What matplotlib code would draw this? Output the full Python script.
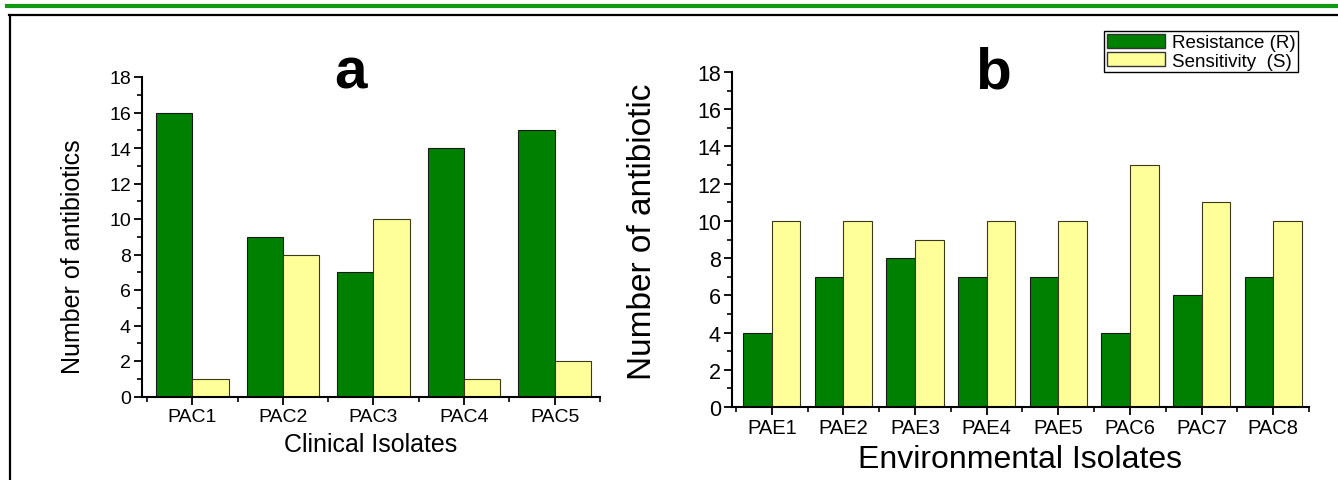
import numpy as np
import matplotlib
matplotlib.use('Agg')
from matplotlib import pyplot as plt
from matplotlib.lines import Line2D
from matplotlib.ticker import MultipleLocator, FixedLocator

plt.rcParams['font.family'] = ['Liberation Sans', 'DejaVu Sans']

# 数据
clinical = ['PAC1', 'PAC2', 'PAC3', 'PAC4', 'PAC5']
clinical_r = [16, 9, 7, 14, 15]
clinical_s = [1, 8, 10, 1, 2]

environ = ['PAE1', 'PAE2', 'PAE3', 'PAE4', 'PAE5', 'PAC6', 'PAC7', 'PAC8']
environ_r = [4, 7, 8, 7, 7, 4, 6, 7]
environ_s = [10, 10, 9, 10, 10, 13, 11, 10]

green = '#008000'
yellow = '#FFFF99'
W, H = 1338, 481

fig = plt.figure(figsize=(W / 100, H / 100), dpi=100)


def px_axes(l, r, t, b):
    return fig.add_axes([l / W, 1 - b / H, (r - l) / W, (b - t) / H])


def draw_panel(ax, names, r_vals, s_vals, ylabel, xlabel, ytick_fs, xtick_fs,
               ylab_fs, xlab_fs, ylab_pos):
    x = np.arange(len(names))
    ax.bar(x - 0.2, r_vals, width=0.4, color=green, edgecolor='#1a1a1a', linewidth=0.8)
    ax.bar(x + 0.2, s_vals, width=0.4, color=yellow, edgecolor='#3a3a1a', linewidth=0.8)
    ax.set_xlim(-0.555, len(names) - 0.5)
    ax.set_ylim(0, 18)
    for s in ['top', 'right']:
        ax.spines[s].set_visible(False)
    for s in ['left', 'bottom']:
        ax.spines[s].set_linewidth(1.5)
    ax.yaxis.set_major_locator(MultipleLocator(2))
    ax.yaxis.set_minor_locator(MultipleLocator(1))
    ax.xaxis.set_major_locator(FixedLocator(x))
    ax.xaxis.set_minor_locator(FixedLocator(np.arange(len(names) + 1) - 0.5))
    ax.set_xticklabels(names)
    ax.tick_params(which='major', length=6, width=1.3, pad=2)
    ax.tick_params(axis='y', labelsize=ytick_fs)
    ax.tick_params(axis='x', labelsize=xtick_fs)
    ax.tick_params(which='minor', length=3.5, width=1.2)
    ax.set_ylabel(ylabel, fontsize=ylab_fs)
    ax.yaxis.set_label_coords(*ylab_pos)
    ax.set_xlabel(xlabel, fontsize=xlab_fs, labelpad=5)


ax_a = px_axes(142, 600, 78, 397.5)
draw_panel(ax_a, clinical, clinical_r, clinical_s,
           'Number of antibiotics', 'Clinical Isolates', 14, 14, 18, 18, (-0.124, 0.44))

ax_b = px_axes(732, 1309, 73, 408)
draw_panel(ax_b, environ, environ_r, environ_s,
           'Number of antibiotic', 'Environmental Isolates', 15.5, 14.5, 24, 23, (-0.128, 0.525))

# 标题字母
fig.text(350 / W, 1 - 89 / H, 'a', fontsize=42, fontweight='bold', ha='center', va='baseline')
fig.text(993 / W, 1 - 89 / H, 'b', fontsize=42, fontweight='bold', ha='center', va='baseline')

# 图例
handles = [plt.Rectangle((0, 0), 1, 1, facecolor=green, edgecolor='#333333', linewidth=1),
           plt.Rectangle((0, 0), 1, 1, facecolor=yellow, edgecolor='#333333', linewidth=1)]
leg = fig.legend(handles, ['Resistance (R)', 'Sensitivity  (S)'],
                 loc='upper right', bbox_to_anchor=(1298 / W, 1 - 32 / H),
                 fontsize=13.5, frameon=True, fancybox=False, framealpha=1,
                 edgecolor='black', borderpad=0.15, labelspacing=0.05,
                 handlelength=3.1, handleheight=0.75, handletextpad=0.35,
                 borderaxespad=0)
leg.get_frame().set_linewidth(1)

# 外框线
fig.add_artist(Line2D([7 / W, 1], [1 - 7 / H, 1 - 7 / H], color='#119911', linewidth=3))
fig.add_artist(Line2D([9 / W, 1], [1 - 16 / H, 1 - 16 / H], color='black', linewidth=1.6))
fig.add_artist(Line2D([10 / W, 10 / W], [1 - 16 / H, 0], color='black', linewidth=1.6))

fig.savefig('out.png', dpi=100)
